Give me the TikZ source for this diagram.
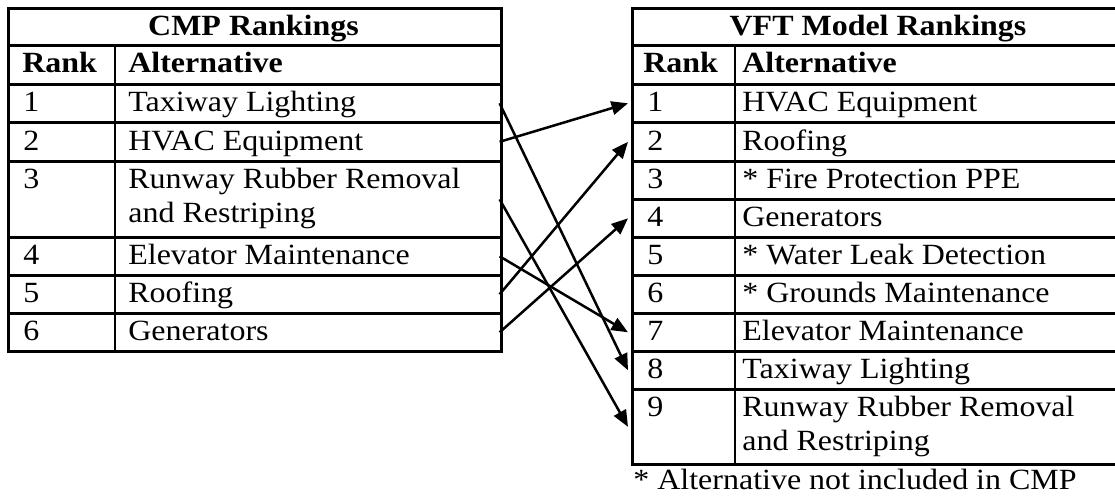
\documentclass[tikz,border=0pt]{standalone}
\usepackage{fontspec}
\setmainfont[FakeStretch=1.09]{Liberation Serif}
\usetikzlibrary{arrows.meta}
\newlength{\px}
\setlength{\px}{0.02cm}
\tikzset{
  rankrow/.style={draw, line width=2.6\px, inner sep=0pt, anchor=north west, minimum height=#1},
  cmprow/.style={rankrow=#1, minimum width=493\px},
  vftrow/.style={rankrow=#1, minimum width=494\px},
  txt/.style={inner sep=0pt, anchor=base west, font=\fontsize{16.7pt}{20pt}\selectfont},
  headtxt/.style={txt, font=\fontsize{16.7pt}{20pt}\selectfont\bfseries},
  moved/.style={line width=0.05cm, -{Triangle[length=0.33cm,width=0.27cm]}},
}
\begin{document}
\begin{tikzpicture}[x=\px, y=-\px]
    \clip (0,0) rectangle (1115,495);

    % CMP table (left)
    \node[cmprow=37\px] (cmpT) at (7,7) {};
    \node[cmprow=39\px] (cmpH) at (7,44) {};
    \node[cmprow=38\px] (cmp1) at (7,83) {};
    \node[cmprow=39\px] (cmp2) at (7,121) {};
    \node[cmprow=76\px] (cmp3) at (7,160) {};
    \node[cmprow=38\px] (cmp4) at (7,236) {};
    \node[cmprow=38\px] (cmp5) at (7,274) {};
    \node[cmprow=38\px] (cmp6) at (7,312) {};
    \draw[line width=2.6\px] (cmpH.north west -| 115,0) -- (cmp6.south west -| 115,0);

    \node[headtxt, anchor=base] (cmpTitle) at (253.5,35) {CMP Rankings};
    \node[headtxt] (cmpRank) at (22,72) {Rank};
    \node[headtxt] (cmpAlt) at (128,72) {Alternative};
    \node[txt] (cmpr1) at (23,111) {1};
    \node[txt] (cmpa1) at (128,111) {Taxiway Lighting};
    \node[txt] (cmpr2) at (23,150) {2};
    \node[txt] (cmpa2) at (128,150) {HVAC Equipment};
    \node[txt] (cmpr3) at (23,188) {3};
    \node[txt] (cmpa3) at (128,188) {Runway Rubber Removal};
    \node[txt] (cmpb3) at (128,222) {and Restriping};
    \node[txt] (cmpr4) at (23,264) {4};
    \node[txt] (cmpa4) at (128,264) {Elevator Maintenance};
    \node[txt] (cmpr5) at (23,302) {5};
    \node[txt] (cmpa5) at (128,302) {Roofing};
    \node[txt] (cmpr6) at (23,340) {6};
    \node[txt] (cmpa6) at (128,340) {Generators};

    % VFT table (right)
    \node[vftrow=37\px] (vftT) at (631,7) {};
    \node[vftrow=39\px] (vftH) at (631,44) {};
    \node[vftrow=38\px] (vft1) at (631,83) {};
    \node[vftrow=39\px] (vft2) at (631,121) {};
    \node[vftrow=38\px] (vft3) at (631,160) {};
    \node[vftrow=38\px] (vft4) at (631,198) {};
    \node[vftrow=38\px] (vft5) at (631,236) {};
    \node[vftrow=38\px] (vft6) at (631,274) {};
    \node[vftrow=38\px] (vft7) at (631,312) {};
    \node[vftrow=38\px] (vft8) at (631,350) {};
    \node[vftrow=75\px] (vft9) at (631,388) {};
    \draw[line width=2.6\px] (vftH.north west -| 735,0) -- (vft9.south west -| 735,0);

    \node[headtxt, anchor=base] (vftTitle) at (878,35) {VFT Model Rankings};
    \node[headtxt] (vftRank) at (643,72) {Rank};
    \node[headtxt] (vftAlt) at (742,72) {Alternative};
    \node[txt] (vftr1) at (647,111) {1};
    \node[txt] (vfta1) at (742,111) {HVAC Equipment};
    \node[txt] (vftr2) at (647,150) {2};
    \node[txt] (vfta2) at (742,150) {Roofing};
    \node[txt] (vftr3) at (647,188) {3};
    \node[txt] (vfta3) at (742,188) {* Fire Protection PPE};
    \node[txt] (vftr4) at (647,226) {4};
    \node[txt] (vfta4) at (742,226) {Generators};
    \node[txt] (vftr5) at (647,264) {5};
    \node[txt] (vfta5) at (742,264) {* Water Leak Detection};
    \node[txt] (vftr6) at (647,302) {6};
    \node[txt] (vfta6) at (742,302) {* Grounds Maintenance};
    \node[txt] (vftr7) at (647,340) {7};
    \node[txt] (vfta7) at (742,340) {Elevator Maintenance};
    \node[txt] (vftr8) at (647,378) {8};
    \node[txt] (vfta8) at (742,378) {Taxiway Lighting};
    \node[txt] (vftr9) at (647,416) {9};
    \node[txt] (vfta9) at (742,416) {Runway Rubber Removal};
    \node[txt] (vftb9) at (742,450) {and Restriping};
    \node[txt] (note) at (633,489) {* Alternative not included in CMP};

    % rank changes
    \draw[moved] ([xshift=-0.06cm]cmp1.east) -- ([xshift=-0.06cm]vft8.west);
    \draw[moved] ([xshift=-0.06cm]cmp2.east) -- ([xshift=-0.06cm]vft1.west);
    \draw[moved] ([xshift=-0.06cm]cmp3.east) -- ([xshift=-0.06cm]vft9.west);
    \draw[moved] ([xshift=-0.06cm]cmp4.east) -- ([xshift=-0.06cm]vft7.west);
    \draw[moved] ([xshift=-0.06cm]cmp5.east) -- ([xshift=-0.06cm]vft2.west);
    \draw[moved] ([xshift=-0.06cm]cmp6.east) -- ([xshift=-0.06cm]vft4.west);
\end{tikzpicture}
\end{document}
